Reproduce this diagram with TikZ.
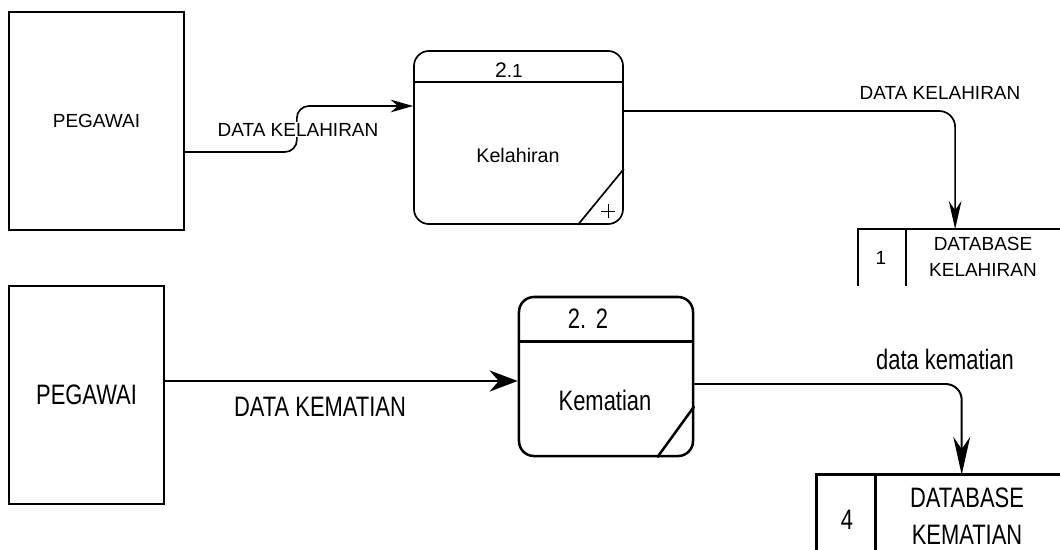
\documentclass[tikz,border=0pt]{standalone}
\usepackage{fontspec}
\setmainfont{Liberation Sans}
\newfontfamily\narrowfont[FakeStretch=0.78]{Liberation Sans}
\usetikzlibrary{arrows.meta}

\begin{document}
\begin{tikzpicture}[x=0.025cm,y=-0.025cm,
  ent/.style={draw,rectangle,align=center},
  proc/.style={draw,rectangle,rounded corners=0.375cm},
  store/.style={rectangle,inner sep=0pt},
  lbl/.style={inner sep=0.5pt,fill=white}]
\useasboundingbox (0,0) rectangle (1060,549);

% The birth part
\begin{scope}[font=\fontsize{13.5}{19}\selectfont,line width=1.2pt]
\node[ent,minimum width=4.375cm,minimum height=5.45cm] (pk) at (96.5,121) {PEGAWAI};
\node[proc,minimum width=5.225cm,minimum height=4.325cm] (p1) at (518.5,137.5) {};
\draw ([shift={(0,32)}]p1.north west) -- ([shift={(0,32)}]p1.north east);
\draw ([shift={(-46,0)}]p1.south east) -- ([shift={(0,-56)}]p1.south east);
\node (n1) at (509,70) {{\fontsize{15}{16}\selectfont 2}.1};
\node[font=\fontsize{14}{16}\selectfont] (t1) at (518,155) {Kelahiran};
\draw[line width=0.6pt] (601,211) -- (615,211) (608,204) -- (608,218);
% The store
\node[store,minimum width=5.025cm,minimum height=1.375cm] (d1) at (959.5,257.5) {};
\draw (d1.south west) -- (d1.north west) -- (d1.north east);
\draw ([shift={(48,0)}]d1.north west) -- ([shift={(48,0)}]d1.south west);
\node (d1n) at (881,258) {1};
\node[align=center] (d1t) at (983,257) {DATABASE\\KELAHIRAN};
% The flows
\draw[rounded corners=0.3cm,-{Stealth[length=16pt,width=9pt]}]
  ([shift={(0,31)}]pk.east) -- ++(112,0) |- ([shift={(0,-31.5)}]p1.west);
\node[lbl] (f1) at (298,129.5) {DATA KELAHIRAN};
\draw[rounded corners=0.4cm,-{Stealth[length=20pt,width=9pt]}]
  ([shift={(0,-26.5)}]p1.east) -| ([shift={(97,0)}]d1.north west);
\node (f2) at (940,93) {DATA KELAHIRAN};
\end{scope}

% The death part
\begin{scope}[font=\narrowfont\fontsize{20}{26}\selectfont,line width=1.8pt]
\node[ent,minimum width=3.875cm,minimum height=5.45cm] (pk2) at (86.5,395) {PEGAWAI};
\node[proc,minimum width=4.35cm,minimum height=3.975cm] (p2) at (606,376.5) {};
\draw ([shift={(0,46)}]p2.north west) -- ([shift={(0,46)}]p2.north east);
\draw ([shift={(-37,0)}]p2.south east) -- ([shift={(0,-51)}]p2.south east);
\node (n2) at (588,319) {2.\hspace{0.35em}2};
\node (t2) at (605,400) {Kematian};
% The store
\node[store,minimum width=6.05cm,minimum height=1.825cm] (d4) at (939,512.5) {};
\draw (d4.south west) -- (d4.north west) -- (d4.north east);
\draw ([shift={(59,0)}]d4.north west) -- ([shift={(59,0)}]d4.south west);
\node (d4n) at (847,520) {4};
\node[align=center] (d4t) at (967,516) {DATABASE\\KEMATIAN};
% The flows
\draw[-{Stealth[length=20pt,width=15pt]}]
  ([shift={(0,-14)}]pk2.east) -- ([shift={(0,-14)}]pk2.east -| p2.west);
\node (f3) at (320,407) {DATA KEMATIAN};
\draw[line width=1.4pt,rounded corners=0.4cm,-{Stealth[length=27pt,width=12pt]}]
  ([shift={(0,7.5)}]p2.east) -| ([shift={(145,0)}]d4.north west);
\node (f4) at (945,359) {data kematian};
\end{scope}
\end{tikzpicture}
\end{document}
